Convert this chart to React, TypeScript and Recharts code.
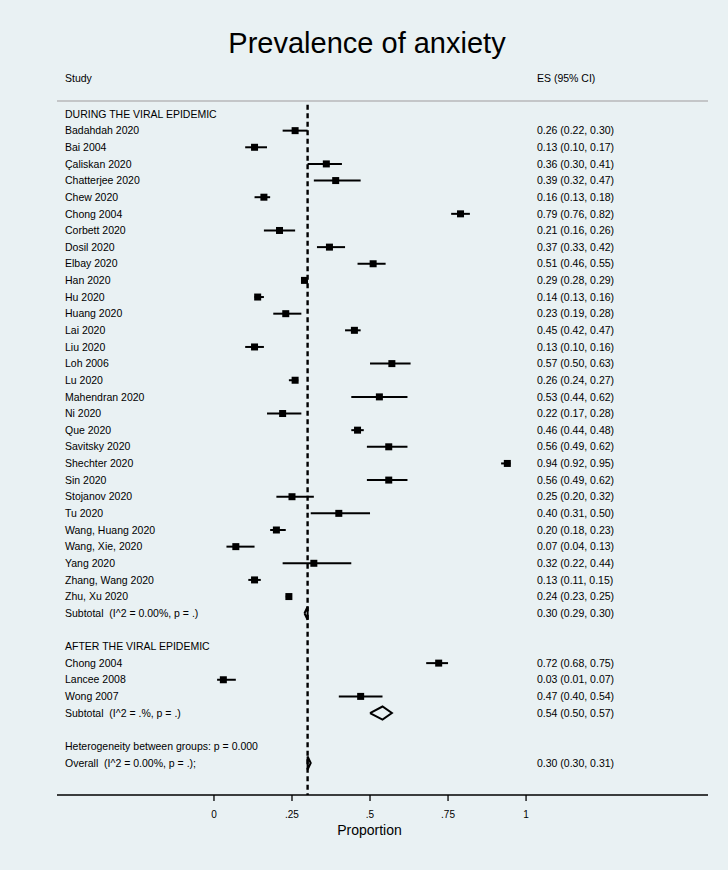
import React from 'react';
import {
  ComposedChart,
  Scatter,
  ErrorBar,
  XAxis,
  YAxis,
  ReferenceLine,
  Label,
} from 'recharts';

// Forest plot: prevalence of anxiety during / after viral epidemics

const duringStudies = [
  'Badahdah 2020', 'Bai 2004', 'Çaliskan 2020', 'Chatterjee 2020', 'Chew 2020',
  'Chong 2004', 'Corbett 2020', 'Dosil 2020', 'Elbay 2020', 'Han 2020',
  'Hu 2020', 'Huang 2020', 'Lai 2020', 'Liu 2020', 'Loh 2006',
  'Lu 2020', 'Mahendran 2020', 'Ni 2020', 'Que 2020', 'Savitsky 2020',
  'Shechter 2020', 'Sin 2020', 'Stojanov 2020', 'Tu 2020', 'Wang, Huang 2020',
  'Wang, Xie, 2020', 'Yang 2020', 'Zhang, Wang 2020', 'Zhu, Xu 2020',
];
const duringES = [
  0.26, 0.13, 0.36, 0.39, 0.16, 0.79, 0.21, 0.37, 0.51, 0.29,
  0.14, 0.23, 0.45, 0.13, 0.57, 0.26, 0.53, 0.22, 0.46, 0.56,
  0.94, 0.56, 0.25, 0.40, 0.20, 0.07, 0.32, 0.13, 0.24,
];
const duringLo = [
  0.22, 0.10, 0.30, 0.32, 0.13, 0.76, 0.16, 0.33, 0.46, 0.28,
  0.13, 0.19, 0.42, 0.10, 0.50, 0.24, 0.44, 0.17, 0.44, 0.49,
  0.92, 0.49, 0.20, 0.31, 0.18, 0.04, 0.22, 0.11, 0.23,
];
const duringHi = [
  0.30, 0.17, 0.41, 0.47, 0.18, 0.82, 0.26, 0.42, 0.55, 0.29,
  0.16, 0.28, 0.47, 0.16, 0.63, 0.27, 0.62, 0.28, 0.48, 0.62,
  0.95, 0.62, 0.32, 0.50, 0.23, 0.13, 0.44, 0.15, 0.25,
];
const duringSubtotal = { label: 'Subtotal  (I^2 = 0.00%, p = .)', es: 0.30, lo: 0.29, hi: 0.30 };

const afterStudies = ['Chong 2004', 'Lancee 2008', 'Wong 2007'];
const afterES = [0.72, 0.03, 0.47];
const afterLo = [0.68, 0.01, 0.40];
const afterHi = [0.75, 0.07, 0.54];
const afterSubtotal = { label: 'Subtotal  (I^2 = .%, p = .)', es: 0.54, lo: 0.50, hi: 0.57 };

const heterogeneityText = 'Heterogeneity between groups: p = 0.000';
const overall = { label: 'Overall  (I^2 = 0.00%, p = .);', es: 0.30, lo: 0.30, hi: 0.31 };

const groupTitles = ['DURING THE VIRAL EPIDEMIC', 'AFTER THE VIRAL EPIDEMIC'];
const xTicks = [0, 0.25, 0.5, 0.75, 1];

const FONT = '"Liberation Sans", Arial, Helvetica, sans-serif';
const BG = '#e9f1f3';
const ROW_PX = 16.64;
const DIAMOND_HALF = 6.5 / ROW_PX;

type Row = { row: number; name: string; es?: number; lo?: number; hi?: number; kind: string };

const fmt = (v: number) => v.toFixed(2);

function buildRows(): Row[] {
  const rows: Row[] = [];
  let r = 0;
  rows.push({ row: r++, name: groupTitles[0], kind: 'head' });
  duringStudies.forEach((n, i) =>
    rows.push({ row: r++, name: n, es: duringES[i], lo: duringLo[i], hi: duringHi[i], kind: 'study' })
  );
  rows.push({ row: r++, name: duringSubtotal.label, ...duringSubtotal, kind: 'sub' });
  r++;
  rows.push({ row: r++, name: groupTitles[1], kind: 'head' });
  afterStudies.forEach((n, i) =>
    rows.push({ row: r++, name: n, es: afterES[i], lo: afterLo[i], hi: afterHi[i], kind: 'study' })
  );
  rows.push({ row: r++, name: afterSubtotal.label, ...afterSubtotal, kind: 'sub' });
  r++;
  rows.push({ row: r++, name: heterogeneityText, kind: 'head' });
  rows.push({ row: r++, name: overall.label, ...overall, kind: 'sub' });
  return rows;
}

const rows = buildRows();
const studyPoints = rows
  .filter((d) => d.kind === 'study')
  .map((d) => ({ x: d.es, y: d.row, err: [d.es! - d.lo!, d.hi! - d.es!] }));
const diamonds = rows
  .filter((d) => d.kind === 'sub')
  .map((d) => [
    { x: d.lo, y: d.row },
    { x: d.es, y: d.row - DIAMOND_HALF },
    { x: d.hi, y: d.row },
    { x: d.es, y: d.row + DIAMOND_HALF },
    { x: d.lo, y: d.row },
  ]);

const yTop = -13 / ROW_PX;
const yBottom = (795 - 114) / ROW_PX;

const Box = (props: any) => {
  const { cx, cy } = props;
  const s = 7;
  return <rect x={cx - s / 2} y={cy - s / 2} width={s} height={s} fill="#000" />;
};

const NoShape = () => <g />;

const renderRowTick = (props: any) => {
  const { y, payload, index } = props;
  const d = rows.find((r) => Math.abs(r.row - Number(payload?.value)) < 0.01) ?? rows[index];
  if (!d) return <g />;
  return (
    <g key={`row-${index}`}>
      <text
        x={65}
        y={y}
        dy="0.35em"
        fontFamily={FONT}
        fontSize={10.5}
        fill="#000"
        style={{ whiteSpace: 'pre' }}
      >
        {d.name}
      </text>
      {d.es !== undefined && (
        <text x={537} y={y} dy="0.35em" fontFamily={FONT} fontSize={10.5} fill="#000">
          {`${fmt(d.es)} (${fmt(d.lo!)}, ${fmt(d.hi!)})`}
        </text>
      )}
    </g>
  );
};

export default function App() {
  return (
    <div style={{ position: 'absolute', left: 0, top: 0, width: 728, height: 870, background: BG }}>
      <svg width={728} height={870} style={{ position: 'absolute', left: 0, top: 0 }}>
        <text x={367} y={53} textAnchor="middle" fontFamily={FONT} fontSize={29} fill="#000">
          Prevalence of anxiety
        </text>
        <text x={65} y={78} dy="0.35em" fontFamily={FONT} fontSize={10.5} fill="#000">
          Study
        </text>
        <text x={537} y={78} dy="0.35em" fontFamily={FONT} fontSize={10.5} fill="#000">
          ES (95% CI)
        </text>
      </svg>
      <div style={{ position: 'absolute', left: 0, top: 0 }}>
        <ComposedChart
          width={728}
          height={870}
          margin={{ top: 101, right: 20, bottom: 35, left: 56 }}
        >
          <XAxis
            type="number"
            dataKey="x"
            domain={[-0.503, 1.583]}
            allowDataOverflow
            ticks={xTicks}
            tickFormatter={(v: number) => (v === 0 || v === 1 ? String(v) : String(v).replace(/^0/, ''))}
            height={40}
            axisLine={{ stroke: '#000', strokeWidth: 1.3 }}
            tickLine={{ stroke: '#000', strokeWidth: 1.3 }}
            tickSize={6}
            tickMargin={10}
            tick={{ fontSize: 10, fill: '#000', fontFamily: FONT }}
          >
            <Label
              value="Proportion"
              position="insideBottom"
              offset={0}
              dx={-13}
              style={{ fontSize: 14, fill: '#000', fontFamily: FONT }}
            />
          </XAxis>
          <YAxis
            type="number"
            dataKey="y"
            domain={[yTop, yBottom]}
            reversed
            allowDataOverflow
            width={1}
            axisLine={false}
            tickLine={false}
            ticks={rows.map((d) => d.row)}
            interval={0}
            tick={renderRowTick}
          />
          <ReferenceLine y={yTop} stroke="#c4c6c8" strokeWidth={2} ifOverflow="visible" />
          <ReferenceLine
            segment={[
              { x: overall.es, y: -0.55 },
              { x: overall.es, y: yBottom },
            ]}
            stroke="#000"
            strokeWidth={2.4}
            strokeDasharray="5 3.5"
          />
          <Scatter data={studyPoints} shape={<Box />} isAnimationActive={false}>
            <ErrorBar dataKey="err" direction="x" width={0} stroke="#000" strokeWidth={2} />
          </Scatter>
          {diamonds.map((pts, i) => (
            <Scatter
              key={i}
              data={pts}
              line={{ stroke: '#000', strokeWidth: 2 }}
              lineType="joint"
              shape={<NoShape />}
              isAnimationActive={false}
            />
          ))}
        </ComposedChart>
      </div>
    </div>
  );
}
